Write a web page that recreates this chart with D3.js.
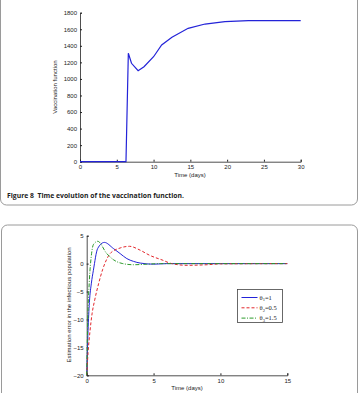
<!DOCTYPE html>
<html>
<head>
<meta charset="utf-8">
<script src="https://cdn.jsdelivr.net/npm/d3@7"></script>
<style>
  body { margin: 0; background: #fff; }
  svg { display: block; font-family: "Liberation Sans", Arial, sans-serif; }
  .axis path, .axis line { stroke: #222; }
  .axis text { fill: #222; font-size: 6px; }
</style>
</head>
<body>
<div id="chart"></div>
<script>
// Figure 8: vaccination function over time
const vacTime  = [0, 6.25, 6.57, 7.0, 7.9, 8.7, 10, 11.1, 12.5, 14.7, 17, 19.7, 22.9, 30];
const vacValue = [0, 0, 1310, 1189, 1099, 1148, 1268, 1410, 1503, 1611, 1663, 1693, 1705, 1705];
const vacXTicks = [0, 5, 10, 15, 20, 25, 30];
const vacYTicks = [0, 200, 400, 600, 800, 1000, 1200, 1400, 1600, 1800];

// estimation error curves
const errTime1 = [0, 0.1, 0.2, 0.35, 0.5, 0.82, 1.32, 2.0, 2.5, 3.0, 3.5, 4.0, 5.0, 6.0, 15];
const errVal1  = [-20, -12, -7, -3.5, -1.2, 2.7, 3.8, 2.7, 1.8, 0.9, 0.4, 0.1, -0.1, 0, 0];
const errTime2 = [0, 0.1, 0.25, 0.4, 0.6, 0.9, 1.2, 1.5, 1.75, 2.5, 3.2, 4.0, 4.7, 5.7, 6.35, 7.5, 9, 10, 15];
const errVal2  = [-20, -16, -12, -9, -6.5, -3.5, -1.0, 0.8, 1.8, 2.8, 3.1, 2.4, 1.5, 0.6, 0, -0.3, -0.2, -0.05, 0];
const errTime3 = [0, 0.08, 0.2, 0.35, 0.5, 0.82, 1.5, 2.0, 2.7, 3.5, 4.5, 5.5, 15];
const errVal3  = [-20, -10, -3, 1.5, 3.4, 4.0, 1.8, 0.7, 0, -0.2, -0.1, 0, 0];
const errXTicks = [0, 5, 10, 15];
const errYTicks = [-20, -15, -10, -5, 0, 5];
const legendLabels = [["1", "=1"], ["2", "=0.5"], ["3", "=1.5"]];

const width = 360;
const height = 393;

const svg = d3.select('#chart')
    .append('svg')
    .attr('width', width)
    .attr('height', height);

// panel frames
svg.append('rect')
    .attr('x', 0.5).attr('y', -20)
    .attr('width', 357).attr('height', 225)
    .attr('rx', 6)
    .attr('fill', 'none').attr('stroke', '#9a9a9a');

svg.append('rect')
    .attr('x', 1.5).attr('y', 225)
    .attr('width', 356).attr('height', 200)
    .attr('rx', 6)
    .attr('fill', 'none').attr('stroke', '#9a9a9a');

// ---- top chart
const x1 = d3.scaleLinear().domain([0, 30]).range([80, 300.7]);
const y1 = d3.scaleLinear().domain([0, 1800]).range([161.7, 12.7]);

svg.append('g')
    .attr('class', 'axis')
    .attr('transform', `translate(0, ${y1(0)})`)
    .call(d3.axisBottom(x1).tickValues(vacXTicks).tickSize(-2).tickPadding(3));

svg.append('g')
    .attr('class', 'axis')
    .attr('transform', `translate(${x1(0)}, 0)`)
    .call(d3.axisLeft(y1).tickValues(vacYTicks).tickFormat(d3.format('d')).tickSize(-2).tickPadding(3));

svg.selectAll('.axis .domain').attr('stroke-width', 0.8);

const line1 = d3.line().x((d, i) => x1(vacTime[i])).y(d => y1(d));
svg.append('path')
    .datum(vacValue)
    .attr('d', line1)
    .attr('fill', 'none')
    .attr('stroke', '#2323d8')
    .attr('stroke-width', 1.2);

svg.append('text')
    .attr('x', 190).attr('y', 177)
    .attr('text-anchor', 'middle')
    .attr('font-size', 6)
    .attr('fill', '#222')
    .text('Time (days)');

svg.append('text')
    .attr('transform', 'rotate(-90)')
    .attr('x', -87).attr('y', 57)
    .attr('text-anchor', 'middle')
    .attr('font-size', 6)
    .attr('fill', '#222')
    .text('Vaccination function');

svg.append('text')
    .attr('x', 7).attr('y', 198)
    .attr('font-family', '"Open Sans", "Noto Sans", sans-serif')
    .attr('font-weight', 'bold')
    .attr('font-size', 7.2)
    .attr('fill', '#222')
    .attr('textLength', 177)
    .attr('lengthAdjust', 'spacingAndGlyphs')
    .attr('xml:space', 'preserve')
    .text('Figure 8  Time evolution of the vaccination function.');

// ---- bottom chart
const x2 = d3.scaleLinear().domain([0, 15]).range([86.7, 287.3]);
const y2 = d3.scaleLinear().domain([-20, 5]).range([375.3, 235.7]);

svg.append('g')
    .attr('class', 'axis')
    .attr('transform', `translate(0, ${y2(-20)})`)
    .call(d3.axisBottom(x2).tickValues(errXTicks).tickSize(-2).tickPadding(3));

svg.append('g')
    .attr('class', 'axis')
    .attr('transform', `translate(${x2(0)}, 0)`)
    .call(d3.axisLeft(y2).tickValues(errYTicks).tickSize(-2).tickPadding(3));

svg.selectAll('.axis .domain').attr('stroke-width', 0.8);

const series = [
    { t: errTime1, v: errVal1, color: '#2323d8', dash: null },
    { t: errTime2, v: errVal2, color: '#e3262b', dash: '3,2' },
    { t: errTime3, v: errVal3, color: '#2b9a2b', dash: '4,1.5,1,1.5' }
];

const line2 = d3.line().curve(d3.curveMonotoneX);
series.forEach(s => {
    svg.append('path')
        .datum(s.t.map((t, i) => [x2(t), y2(s.v[i])]))
        .attr('d', line2)
        .attr('fill', 'none')
        .attr('stroke', s.color)
        .attr('stroke-width', 1)
        .attr('stroke-dasharray', s.dash);
});

svg.append('text')
    .attr('x', 187).attr('y', 390)
    .attr('text-anchor', 'middle')
    .attr('font-size', 6)
    .attr('fill', '#222')
    .text('Time (days)');

svg.append('text')
    .attr('transform', 'rotate(-90)')
    .attr('x', -305).attr('y', 71)
    .attr('text-anchor', 'middle')
    .attr('font-size', 6)
    .attr('fill', '#222')
    .text('Estimation error in the infectious population');

// legend
const legend = svg.append('g').attr('transform', 'translate(237.5, 289.5)');
legend.append('rect')
    .attr('width', 45).attr('height', 33)
    .attr('fill', '#fff')
    .attr('stroke', '#444')
    .attr('stroke-width', 0.8);

series.forEach((s, i) => {
    const yy = 8 + i * 10.3;
    legend.append('line')
        .attr('x1', 4).attr('x2', 20)
        .attr('y1', yy).attr('y2', yy)
        .attr('stroke', s.color)
        .attr('stroke-width', 1)
        .attr('stroke-dasharray', s.dash);
    const txt = legend.append('text')
        .attr('x', 22).attr('y', yy + 2.2)
        .attr('font-family', '"Liberation Serif", "DejaVu Serif", serif')
        .attr('font-size', 6.5)
        .attr('fill', '#222');
    txt.append('tspan').text('θ');
    txt.append('tspan').attr('font-size', 4.5).attr('dy', 1.5).text(legendLabels[i][0]);
    txt.append('tspan').attr('dy', -1.5).text(legendLabels[i][1]);
});
</script>
</body>
</html>
